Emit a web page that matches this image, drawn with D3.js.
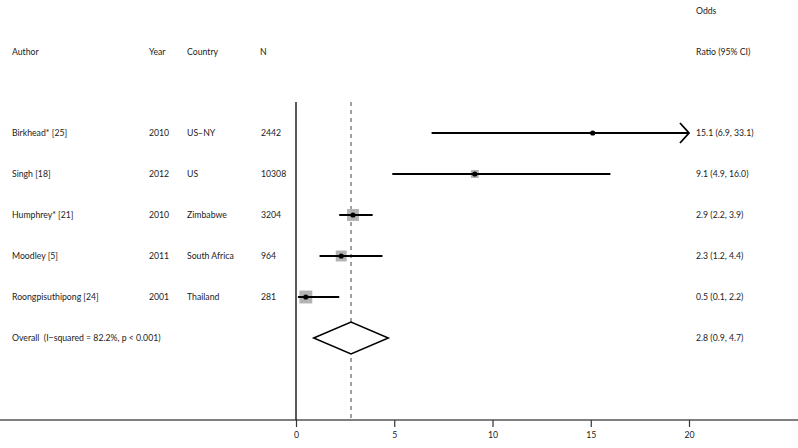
<!DOCTYPE html>
<html><head><meta charset="utf-8">
<script src="https://cdn.jsdelivr.net/npm/d3@7"></script>
<style>body{margin:0;background:#fff}svg{display:block}text{font-family:Lato,sans-serif;font-size:8.7px;fill:#222;white-space:pre}</style>
</head><body>
<svg id="c" width="798" height="448"></svg>
<script>
const authors = ["Birkhead* [25]","Singh [18]","Humphrey* [21]","Moodley [5]","Roongpisuthipong [24]"];
const years = ["2010","2012","2010","2011","2001"];
const countries = ["US\u2013NY","US","Zimbabwe","South Africa","Thailand"];
const ns = ["2442","10308","3204","964","281"];
const or = [15.1, 9.1, 2.9, 2.3, 0.5];
const lower = [6.9, 4.9, 2.2, 1.2, 0.1];
const upper = [33.1, 16.0, 3.9, 4.4, 2.2];
const weights = [1.8, 12.6, 28.4, 23.9, 33.3];
const overall = {label:"Overall  (I\u2212squared = 82.2%, p < 0.001)", or:2.8, lower:0.9, upper:4.7};
const xTicks = [0,5,10,15,20];

const svg = d3.select("#c");
const x = d3.scaleLinear().domain([0,20]).range([296,689]);
const rows = authors.concat(["Overall"]);
const y = d3.scalePoint().domain(rows).range([133,338]);
const size = d3.scaleSqrt().domain([0,35]).range([0,13.2]);
const fmt = v => v.toFixed(1);

// headers
const hy = 52;
svg.append("text").attr("x",12).attr("y",hy).attr("dy","0.35em").text("Author");
svg.append("text").attr("x",149).attr("y",hy).attr("dy","0.35em").text("Year");
svg.append("text").attr("x",187).attr("y",hy).attr("dy","0.35em").text("Country");
svg.append("text").attr("x",260).attr("y",hy).attr("dy","0.35em").text("N");
svg.append("text").attr("x",696).attr("y",11).attr("dy","0.35em").text("Odds");
svg.append("text").attr("x",696).attr("y",hy).attr("dy","0.35em").text("Ratio (95% CI)");

// axis line and ticks
const yAxis = 420;
svg.append("line").attr("x1",0).attr("x2",798).attr("y1",yAxis).attr("y2",yAxis).attr("stroke","#555").attr("stroke-width",1.3);
const ax = svg.append("g").attr("transform",`translate(0,${yAxis})`).call(d3.axisBottom(x).tickValues(xTicks).tickSize(7).tickPadding(5).tickFormat(d3.format("d")));
ax.select(".domain").remove();
ax.selectAll(".tick line").attr("stroke","#333").attr("stroke-width",1.2);
ax.selectAll(".tick text").attr("fill","#222").style("font-size","8.7px").style("font-family","Lato");

// null line and overall dashed line
svg.append("line").attr("x1",x(0)).attr("x2",x(0)).attr("y1",102).attr("y2",yAxis).attr("stroke","#000").attr("stroke-width",1.3);
svg.append("line").attr("x1",x(overall.or)).attr("x2",x(overall.or)).attr("y1",102).attr("y2",yAxis).attr("stroke","#444").attr("stroke-width",1).attr("stroke-dasharray","4,4");

// study rows
authors.forEach((a,i)=>{
  const yy = y(a);
  svg.append("text").attr("x",12).attr("y",yy).attr("dy","0.35em").text(a);
  svg.append("text").attr("x",149).attr("y",yy).attr("dy","0.35em").text(years[i]);
  svg.append("text").attr("x",187).attr("y",yy).attr("dy","0.35em").text(countries[i]);
  svg.append("text").attr("x",261).attr("y",yy).attr("dy","0.35em").text(ns[i]);
  svg.append("text").attr("x",696).attr("y",yy).attr("dy","0.35em").text(`${fmt(or[i])} (${fmt(lower[i])}, ${fmt(upper[i])})`);
  const s = size(weights[i]);
  svg.append("rect").attr("x",x(or[i])-s/2).attr("y",yy-s/2).attr("width",s).attr("height",s).attr("fill","#b3b3b3");
  const hi = Math.min(upper[i],20);
  svg.append("line").attr("x1",x(Math.max(lower[i],0))).attr("x2",x(hi)).attr("y1",yy).attr("y2",yy).attr("stroke","#000").attr("stroke-width",1.8);
  if (upper[i] > 20) {
    const t = x(20);
    svg.append("path").attr("d",`M${t-9},${yy-10}L${t},${yy}L${t-9},${yy+10}`).attr("fill","none").attr("stroke","#000").attr("stroke-width",1.8);
  }
  svg.append("circle").attr("cx",x(or[i])).attr("cy",yy).attr("r",2.6).attr("fill","#000");
});

// overall
const oy = y("Overall");
svg.append("text").attr("x",12).attr("y",oy).attr("dy","0.35em").text(overall.label);
svg.append("text").attr("x",696).attr("y",oy).attr("dy","0.35em").text(`${fmt(overall.or)} (${fmt(overall.lower)}, ${fmt(overall.upper)})`);
svg.append("path").attr("d",`M${x(overall.lower)},${oy}L${x(overall.or)},${oy-16}L${x(overall.upper)},${oy}L${x(overall.or)},${oy+16}Z`).attr("fill","#fff").attr("stroke","#000").attr("stroke-width",1.5);
</script>
</body></html>
